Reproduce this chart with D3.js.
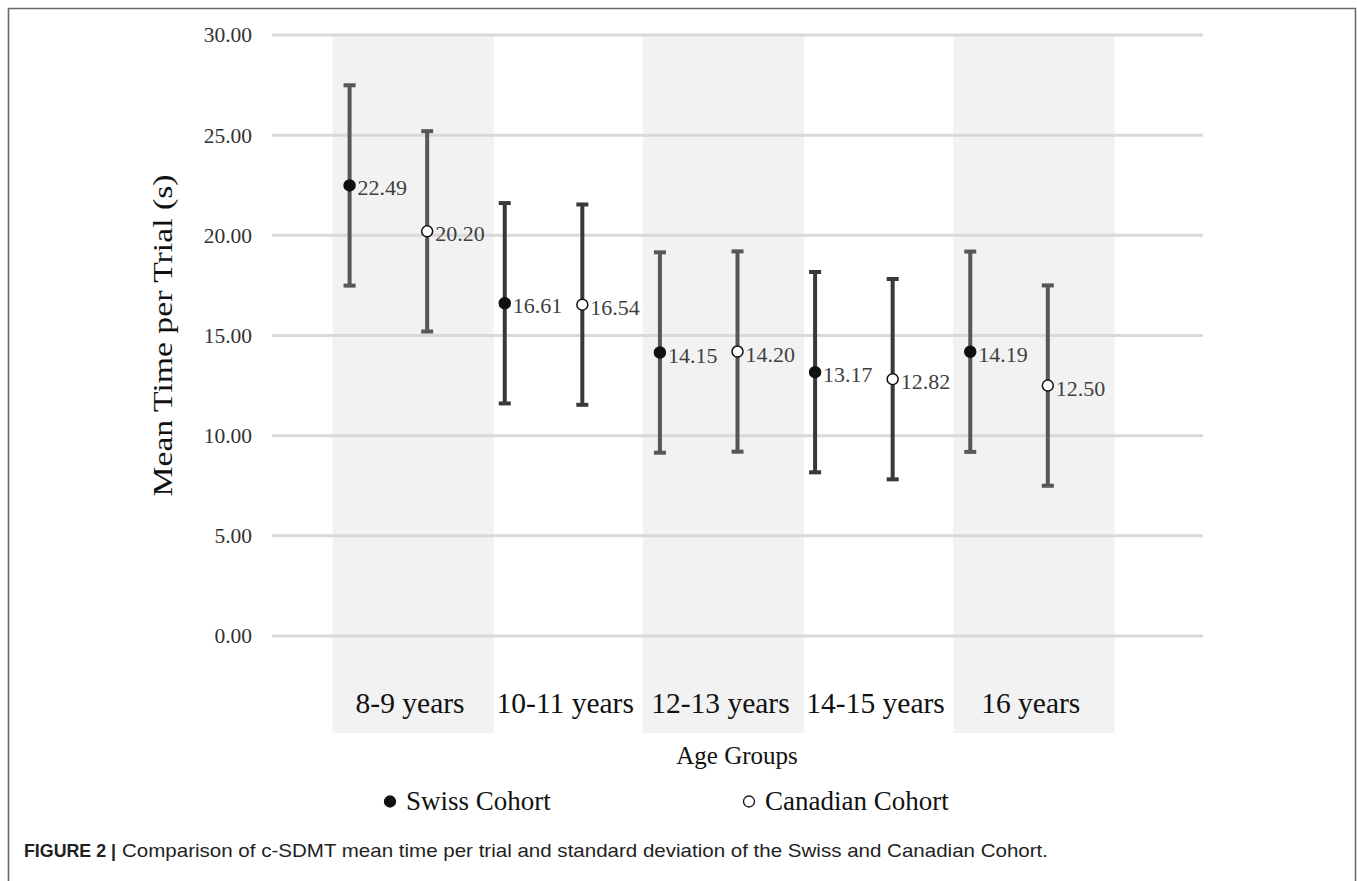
<!DOCTYPE html>
<html><head><meta charset="utf-8">
<script src="https://cdn.jsdelivr.net/npm/d3@7"></script>
<style>body{margin:0;background:#fff;}svg{display:block;}</style>
</head><body>
<script>
const categories = ["8-9 years", "10-11 years", "12-13 years", "14-15 years", "16 years"];
const swissMeans = [22.49, 16.61, 14.15, 13.17, 14.19];
const canadianMeans = [20.20, 16.54, 14.20, 12.82, 12.50];
const swissSD = [5, 5, 5, 5, 5];
const canadianSD = [5, 5, 5, 5, 5];
const yTicks = [0, 5, 10, 15, 20, 25, 30];
const seriesNames = ["Swiss Cohort", "Canadian Cohort"];
const caption = ["FIGURE 2 |", "Comparison of c-SDMT mean time per trial and standard deviation of the Swiss and Canadian Cohort."];

const W = 1357, H = 881;
const svg = d3.select("body").append("svg").attr("width", W).attr("height", H);

// frame
svg.append("path").attr("d", `M8.5,${H+2} L8.5,8.5 L1355.5,8.5 L1355.5,${H+2}`)
  .attr("fill", "none").attr("stroke", "#6b6b6b").attr("stroke-width", 1.6);

const x = d3.scaleLinear().domain([0, 6]).range([272, 1203]);
const y = d3.scaleLinear().domain([0, 30]).range([636, 35]);
const serif = "'Liberation Serif', 'Times New Roman', serif";

// shaded bands on alternating categories
svg.selectAll("rect.band").data(categories.map((c, i) => i).filter(i => i % 2 === 0))
  .enter().append("rect")
  .attr("x", i => x(i + 0.39)).attr("width", i => x(i + 1.43) - x(i + 0.39))
  .attr("y", y(30)).attr("height", 733 - y(30))
  .attr("fill", "#f2f2f2");

// grid
svg.append("g").selectAll("line").data(yTicks).enter().append("line")
  .attr("x1", x(0)).attr("x2", x(6)).attr("y1", d => y(d)).attr("y2", d => y(d))
  .attr("stroke", "#d9d9d9").attr("stroke-width", 3);

// y axis labels via d3 axis
const yAxis = svg.append("g").attr("transform", `translate(${x(0)},0)`)
  .call(d3.axisLeft(y).tickValues(yTicks).tickFormat(d3.format(".2f")).tickSize(0).tickPadding(20));
yAxis.select(".domain").remove();
yAxis.selectAll("text").attr("font-family", serif).attr("font-size", 21.5).attr("fill", "#333");

// y title
svg.append("text").attr("transform", `translate(172,${y(15)}) rotate(-90)`)
  .attr("text-anchor", "middle").attr("font-family", serif).attr("font-size", 27).attr("fill", "#111")
  .attr("textLength", 322).attr("lengthAdjust", "spacingAndGlyphs")
  .text("Mean Time per Trial (s)");

// category labels
svg.selectAll("text.cat").data(categories).enter().append("text")
  .attr("x", (d, i) => x(i + 0.89)).attr("y", 713).attr("text-anchor", "middle")
  .attr("font-family", serif).attr("font-size", 29.5).attr("fill", "#111").text(d => d);

svg.append("text").attr("x", 737).attr("y", 764).attr("text-anchor", "middle")
  .attr("font-family", serif).attr("font-size", 25).attr("fill", "#111").text("Age Groups");

// series
const series = [
  {name: seriesNames[0], means: swissMeans, sd: swissSD, off: 0.5, fill: "#111"},
  {name: seriesNames[1], means: canadianMeans, sd: canadianSD, off: 1.0, fill: "#fff"}
];
series.forEach(s => {
  const g = svg.append("g");
  const pts = s.means.map((m, i) => ({m, sd: s.sd[i], i}));
  const col = d => d.i % 2 === 0 ? "#575757" : "#393939";
  g.selectAll("line.eb").data(pts).enter().append("line")
    .attr("x1", d => x(d.i + s.off)).attr("x2", d => x(d.i + s.off))
    .attr("y1", d => y(d.m + d.sd)).attr("y2", d => y(d.m - d.sd))
    .attr("stroke", col).attr("stroke-width", 4);
  [1, -1].forEach(sign => {
    g.selectAll(null).data(pts).enter().append("rect")
      .attr("x", d => x(d.i + s.off) - 6).attr("width", 12)
      .attr("y", d => y(d.m + sign * d.sd) - 2).attr("height", 4)
      .attr("fill", col);
  });
  g.selectAll("circle").data(pts).enter().append("circle")
    .attr("cx", d => x(d.i + s.off)).attr("cy", d => y(d.m)).attr("r", 5.5)
    .attr("fill", s.fill).attr("stroke", "#111").attr("stroke-width", 1.5);
  g.selectAll("text").data(pts).enter().append("text")
    .attr("x", d => x(d.i + s.off) + 8).attr("y", d => y(d.m) + 10)
    .attr("font-family", serif).attr("font-size", 22).attr("fill", "#404040")
    .text(d => d.m.toFixed(2));
});

// legend
const leg = [{x: 390, fill: "#111", name: seriesNames[0]}, {x: 749, fill: "#fff", name: seriesNames[1]}];
leg.forEach(l => {
  svg.append("circle").attr("cx", l.x).attr("cy", 801.5).attr("r", 5.5)
    .attr("fill", l.fill).attr("stroke", "#111").attr("stroke-width", 1.3);
  svg.append("text").attr("x", l.x + 16).attr("y", 810).attr("font-family", serif)
    .attr("font-size", 27).attr("fill", "#111").text(l.name);
});

// caption
const capFont = "'Liberation Sans', Arial, sans-serif";
svg.append("text").attr("x", 24).attr("y", 857).attr("font-family", capFont)
  .attr("font-size", 18.5).attr("font-weight", "bold").attr("fill", "#222")
  .attr("textLength", 92).attr("lengthAdjust", "spacingAndGlyphs").text(caption[0]);
svg.append("text").attr("x", 122).attr("y", 857).attr("font-family", capFont)
  .attr("font-size", 18.5).attr("fill", "#222")
  .attr("textLength", 926).attr("lengthAdjust", "spacingAndGlyphs").text(caption[1]);
</script>
</body></html>
